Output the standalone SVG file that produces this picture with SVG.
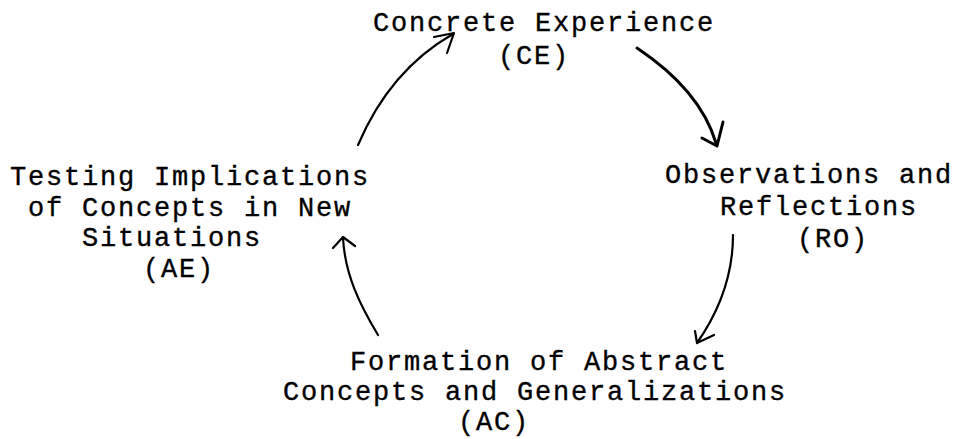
<svg xmlns="http://www.w3.org/2000/svg" width="956" height="439" viewBox="0 0 956 439">
<style>
text{font-family:"Liberation Mono","Courier New",monospace;font-size:27px;letter-spacing:1.8px;fill:#000;stroke:#000;stroke-width:0.35}
.c{fill:none;stroke:#000;stroke-width:2.2;stroke-linecap:round;stroke-linejoin:round}
</style>
<rect width="956" height="439" fill="#fff"/>
<g id="ce">
<text x="373" y="31">Concrete Experience</text>
<text x="498" y="64">(CE)</text>
</g>
<g id="ro">
<text x="665" y="183">Observations and</text>
<text x="720" y="215">Reflections</text>
<text x="797" y="247">(RO)</text>
</g>
<g id="ac">
<text x="350" y="370">Formation of Abstract</text>
<text x="283" y="400">Concepts and Generalizations</text>
<text x="458" y="430">(AC)</text>
</g>
<g id="ae">
<text x="10" y="185">Testing Implications</text>
<text x="28" y="216">of Concepts in New</text>
<text x="82" y="246">Situations</text>
<text x="143" y="277">(AE)</text>
</g>
<g id="connectors">
<path class="c" d="M358,145 Q390,70 453,34 M434,37 L454,33 L447,53"/>
<path class="c" style="stroke-width:3" d="M637,48 Q700,90 716,143 M702,138 L717,146 L723,122"/>
<path class="c" d="M733,235 C733,275 720,310 697,343 M695,331 L697,343 L714,335"/>
<path class="c" d="M378,335 C360,305 345,275 343,238 M333,248 L343,237 L355,246"/>
</g>
</svg>
